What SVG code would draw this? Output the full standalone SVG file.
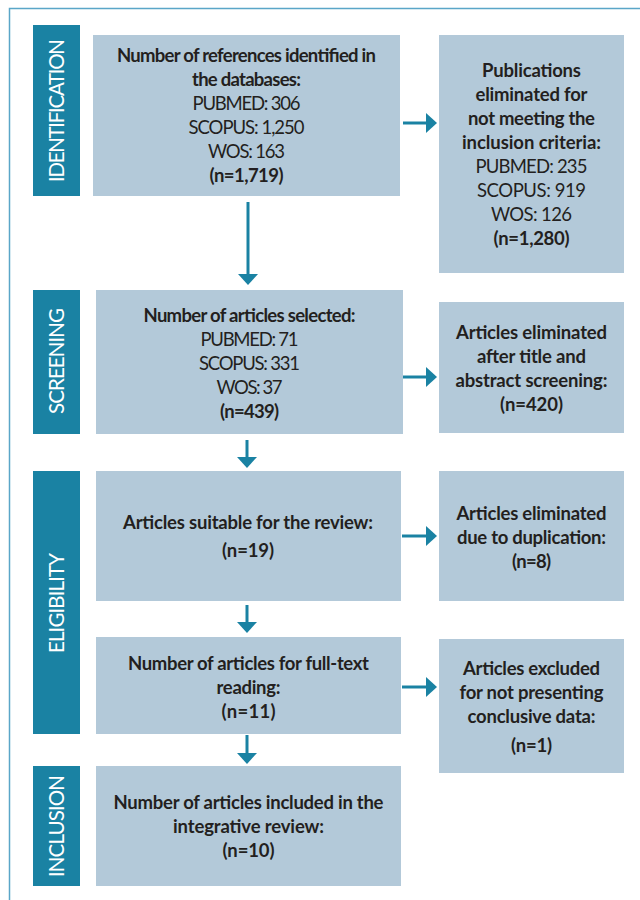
<svg xmlns="http://www.w3.org/2000/svg" width="640" height="900" viewBox="0 0 640 900">
<defs>
<style>
.lbl{fill:#1a82a3}
.box{fill:#b3c9d9}
.lt{font-family:Lato,"Liberation Sans",sans-serif;font-size:20.5px;fill:#ffffff;text-anchor:middle}
.t{font-family:Lato,"Liberation Sans",sans-serif;font-size:18.5px;fill:#231f20;text-anchor:middle}
.b{font-weight:bold}
.ln{stroke:#1a82a3;stroke-width:3;fill:none}
.hd{fill:#1a82a3}
</style>
</defs>
<rect width="640" height="900" fill="#ffffff"/>
<path d="M9.5,900 V8.5 H640" fill="none" stroke="#5aa6c8" stroke-width="1.5"/>

<g id="stage-identification"><rect class="lbl" x="33" y="25" width="47" height="171"/><text class="lt" transform="translate(64,110.5) rotate(-90)" textLength="143">IDENTIFICATION</text></g>
<g id="stage-screening"><rect class="lbl" x="33" y="290" width="47" height="144"/><text class="lt" transform="translate(64,361) rotate(-90)" textLength="106">SCREENING</text></g>
<g id="stage-eligibility"><rect class="lbl" x="33" y="471" width="47" height="263"/><text class="lt" transform="translate(64,603) rotate(-90)" textLength="100">ELIGIBILITY</text></g>
<g id="stage-inclusion"><rect class="lbl" x="33" y="766" width="47" height="120"/><text class="lt" transform="translate(64,826) rotate(-90)" textLength="102">INCLUSION</text></g>

<g id="n-identified"><rect class="box" x="93" y="35" width="307" height="161"/>
<text class="t b" x="246.5" y="62" textLength="259">Number of references identified in</text>
<text class="t b" x="246.5" y="86" textLength="109">the databases:</text>
<text class="t" x="246.5" y="110" textLength="108">PUBMED: 306</text>
<text class="t" x="246.5" y="134" textLength="116">SCOPUS: 1,250</text>
<text class="t" x="246.5" y="158" textLength="77">WOS: 163</text>
<text class="t b" x="246.5" y="182" textLength="74">(n=1,719)</text></g>

<g id="n-elim1"><rect class="box" x="439" y="35" width="185" height="238"/>
<text class="t b" x="531.5" y="77" textLength="99">Publications</text>
<text class="t b" x="531.5" y="101" textLength="112">eliminated for</text>
<text class="t b" x="531.5" y="125" textLength="127">not meeting the</text>
<text class="t b" x="531.5" y="149" textLength="139">inclusion criteria:</text>
<text class="t" x="531.5" y="173" textLength="112">PUBMED: 235</text>
<text class="t" x="531.5" y="197" textLength="109">SCOPUS: 919</text>
<text class="t" x="531.5" y="221" textLength="81">WOS: 126</text>
<text class="t b" x="531.5" y="245" textLength="76">(n=1,280)</text></g>

<g id="n-selected"><rect class="box" x="96" y="290" width="307" height="144"/>
<text class="t b" x="249.5" y="322" textLength="212">Number of articles selected:</text>
<text class="t" x="249.5" y="346" textLength="98">PUBMED: 71</text>
<text class="t" x="249.5" y="370" textLength="101">SCOPUS: 331</text>
<text class="t" x="249.5" y="394" textLength="66">WOS: 37</text>
<text class="t b" x="249.5" y="418" textLength="59">(n=439)</text></g>

<g id="n-elim2"><rect class="box" x="439" y="302" width="185" height="131"/>
<text class="t b" x="531.5" y="339" textLength="151">Articles eliminated</text>
<text class="t b" x="531.5" y="363" textLength="109">after title and</text>
<text class="t b" x="531.5" y="387" textLength="152">abstract screening:</text>
<text class="t b" x="531.5" y="411" textLength="63">(n=420)</text></g>

<g id="n-suitable"><rect class="box" x="96" y="471" width="305" height="130"/>
<text class="t b" x="248" y="529" textLength="250">Articles suitable for the review:</text>
<text class="t b" x="248" y="557" textLength="52">(n=19)</text></g>

<g id="n-elim3"><rect class="box" x="439" y="471" width="185" height="130"/>
<text class="t b" x="531.5" y="520" textLength="150">Articles eliminated</text>
<text class="t b" x="531.5" y="544" textLength="149">due to duplication:</text>
<text class="t b" x="531.5" y="568" textLength="39">(n=8)</text></g>

<g id="n-fulltext"><rect class="box" x="96" y="637" width="305" height="97"/>
<text class="t b" x="248.5" y="670" textLength="241">Number of articles for full-text</text>
<text class="t b" x="248.5" y="694" textLength="64">reading:</text>
<text class="t b" x="248.5" y="718" textLength="54">(n=11)</text></g>

<g id="n-elim4"><rect class="box" x="439" y="639" width="185" height="134"/>
<text class="t b" x="531.5" y="675" textLength="137">Articles excluded</text>
<text class="t b" x="531.5" y="699" textLength="144">for not presenting</text>
<text class="t b" x="531.5" y="723" textLength="128">conclusive data:</text>
<text class="t b" x="531.5" y="752" textLength="41">(n=1)</text></g>

<g id="n-included"><rect class="box" x="96" y="766" width="305" height="120"/>
<text class="t b" x="248.5" y="809" textLength="270">Number of articles included in the</text>
<text class="t b" x="248.5" y="833" textLength="151">integrative review:</text>
<text class="t b" x="248.5" y="857" textLength="52">(n=10)</text></g>

<g id="connectors">
<path class="ln" d="M248,202 V275"/><path class="hd" d="M238,274 H258 L248,285 Z"/>
<path class="ln" d="M247,440 V458"/><path class="hd" d="M237,457 H257 L247,468 Z"/>
<path class="ln" d="M247,605 V623"/><path class="hd" d="M237,622 H257 L247,633 Z"/>
<path class="ln" d="M247,735 V754"/><path class="hd" d="M237,753 H257 L247,764 Z"/>
<path class="ln" d="M403,123 H427"/><path class="hd" d="M426,113 V133 L437,123 Z"/>
<path class="ln" d="M403,377 H427"/><path class="hd" d="M426,367 V387 L437,377 Z"/>
<path class="ln" d="M402,536 H427"/><path class="hd" d="M426,526 V546 L437,536 Z"/>
<path class="ln" d="M402,687 H427"/><path class="hd" d="M426,677 V697 L437,687 Z"/>
</g>
</svg>
